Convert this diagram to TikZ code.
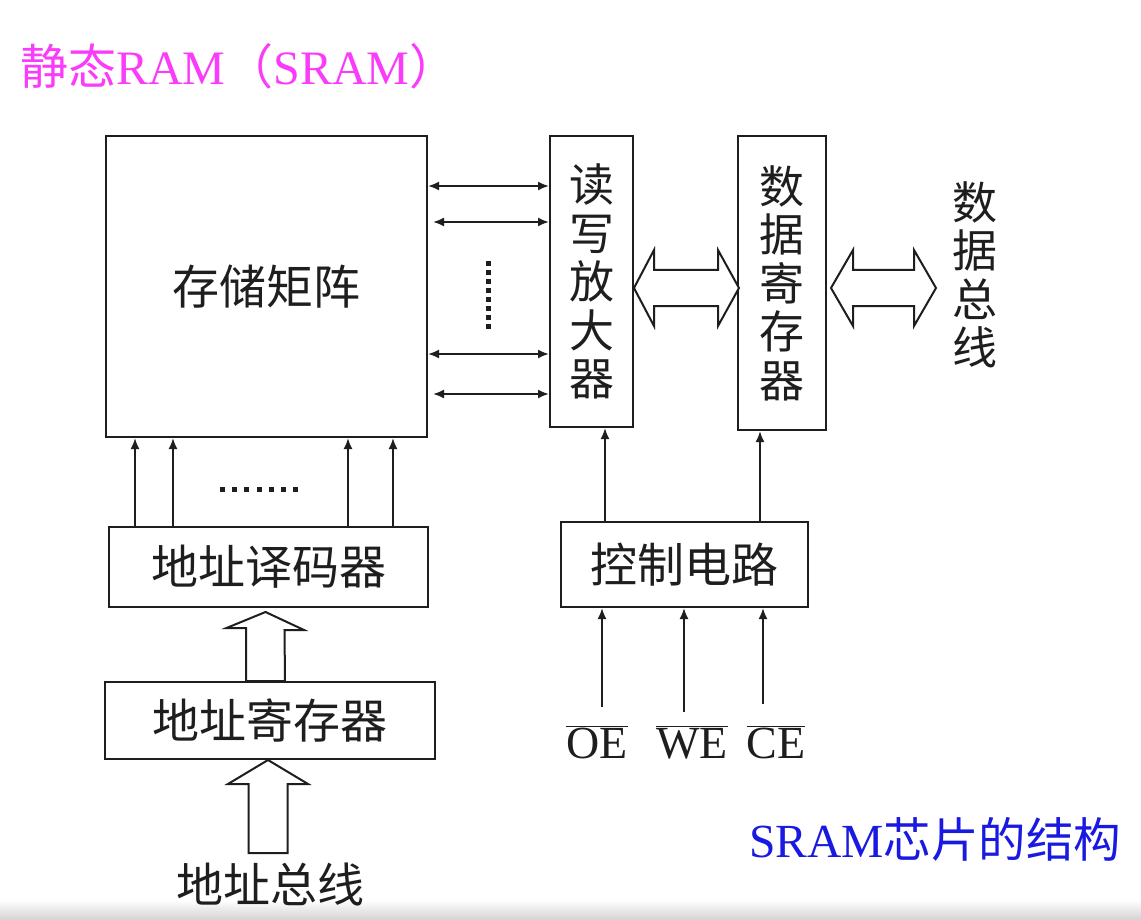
\documentclass[tikz,border=0pt]{standalone}
\usepackage{fontspec}
\setmainfont{Liberation Serif}
\newfontfamily\cjk{Noto Sans CJK SC}
\usetikzlibrary{arrows.meta}
\definecolor{ttl}{RGB}{250,60,250}
\definecolor{capc}{RGB}{25,25,225}
\definecolor{ink}{RGB}{30,30,30}
\begin{document}
\begin{tikzpicture}[x=1pt,y=-1pt,
  box/.style={draw=ink, line width=2pt, rectangle, inner sep=0pt, text=ink},
  arr/.style={draw=ink, line width=1.9pt, -{Latex[length=11pt,width=9pt]}},
  darr/.style={draw=ink, line width=1.9pt, {Latex[length=11pt,width=9pt]}-{Latex[length=11pt,width=9pt]}},
  hollow/.style={draw=ink, line width=2pt, fill=white, line join=miter},
  cjkt/.style={font=\cjk\fontsize{47}{49}\selectfont},
  vtext/.style={font=\cjk\fontsize{45}{48.5}\selectfont, align=center},
  sig/.style={font=\fontsize{46}{50}\selectfont, text=ink, inner sep=0pt, anchor=base}]
\useasboundingbox (0,0) rectangle (1141,920);
\fill[white] (0,0) rectangle (1141,920);
\shade[top color=white, bottom color=gray!35] (0,900) rectangle (1141,920);

% title
\node[anchor=base west, inner sep=0pt, text=ttl, font=\fontsize{48}{52}\selectfont] (title) at (20,85)
  {{\cjk 静态}RAM{\cjk （}SRAM{\cjk ）}};

% boxes
\node[box, cjkt, minimum width=321pt, minimum height=301pt] (mat) at (266.5,286.5) {存储矩阵};
\node[box, vtext, minimum width=83pt, minimum height=291pt] (amp) at (591.5,281.5) {读\\写\\放\\大\\器};
\node[box, vtext, minimum width=88pt, minimum height=294pt] (dreg) at (782,283) {数\\据\\寄\\存\\器};
\node[box, cjkt, minimum width=319pt, minimum height=80pt] (dec) at (268.5,567) {地址译码器};
\node[box, cjkt, minimum width=330pt, minimum height=77pt] (areg) at (270,720.5) {地址寄存器};
\node[box, cjkt, minimum width=247pt, minimum height=85pt] (ctrl) at (684.5,564.5) {控制电路};

% side labels
\node[vtext, text=ink, inner sep=0pt] (dbus) at (975,275) {数\\据\\总\\线};
\node[cjkt, text=ink, inner sep=0pt, anchor=base] (abus) at (270,902) {地址总线};
\node[anchor=base west, inner sep=0pt, text=capc, font=\fontsize{47.5}{50}\selectfont] (cap) at (749,857)
  {SRAM{\cjk 芯片的结构}};

% matrix <-> amplifier
\draw[darr] ([yshift=-51pt]mat.north east) -- ([yshift=-51pt]amp.north west);
\draw[darr, shorten <=5pt] ([yshift=-87pt]mat.north east) -- ([yshift=-87pt]amp.north west);
\draw[darr] ([yshift=-219pt]mat.north east) -- ([yshift=-219pt]amp.north west);
\draw[darr, shorten <=5pt] ([yshift=-259pt]mat.north east) -- ([yshift=-259pt]amp.north west);
\foreach \i in {0,...,7}
  \fill[ink] (485.5,261+9*\i) rectangle ++(5,5);

% decoder -> matrix
\coordinate (d1) at (135,0);
\coordinate (d2) at (173,0);
\coordinate (d3) at (348,0);
\coordinate (d4) at (393,0);
\foreach \c in {d1,d2,d3,d4}
  \draw[arr] (dec.north -| \c) -- (mat.south -| \c);
\foreach \i in {0,...,6}
  \fill[ink] (220+12.2*\i,487) rectangle ++(5,5);

% hollow arrows
\coordinate (h1) at (0,288);
\draw[hollow] (amp.east |- h1) -- ++(20,-38) -- ++(0,20) -- ++(64,0) -- ++(0,-20) -- ++(21,38)
  -- ++(-21,38) -- ++(0,-20) -- ++(-64,0) -- ++(0,20) -- cycle;
\draw[hollow] ([xshift=4pt]dreg.east |- h1) -- ++(22,-38) -- ++(0,20) -- ++(61,0) -- ++(0,-20) -- ++(22,38)
  -- ++(-22,38) -- ++(0,-20) -- ++(-61,0) -- ++(0,20) -- cycle;
\coordinate (h2) at (265.5,0);
\draw[hollow] ([yshift=-4pt]dec.south -| h2) -- ++(38.5,18) -- ++(-19.5,0) -- (areg.north -| 285,0)
  -- (areg.north -| 246,0) -- ++(0,-53) -- ++(-19.5,0) -- cycle;
\coordinate (h3) at (268,0);
\draw[hollow] (areg.south -| h3) -- ++(40,24) -- ++(-20.5,0) -- ++(0,69) -- ++(-39,0) -- ++(0,-69)
  -- ++(-20.5,0) -- cycle;

% control
\coordinate (c1) at (605,0);
\coordinate (c2) at (760,0);
\draw[arr] (ctrl.north -| c1) -- (amp.south -| c1);
\draw[arr] (ctrl.north -| c2) -- (dreg.south -| c2);

% signals
\node[sig] (oe) at (597,758) {$\overline{\mbox{OE}}$};
\node[sig] (we) at (692,758) {$\overline{\mbox{WE}}$};
\node[sig] (ce) at (776,758) {$\overline{\mbox{CE}}$};
\coordinate (s1) at (602,707);
\coordinate (s2) at (684,712);
\coordinate (s3) at (763,704);
\draw[arr] (s1) -- (ctrl.south -| s1);
\draw[arr] (s2) -- (ctrl.south -| s2);
\draw[arr] (s3) -- (ctrl.south -| s3);
\end{tikzpicture}
\end{document}
